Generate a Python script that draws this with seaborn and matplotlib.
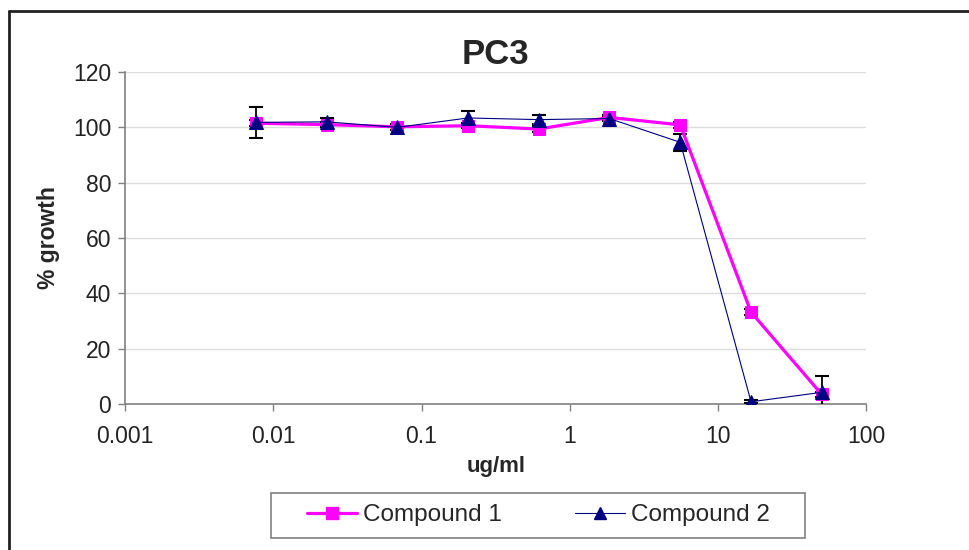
import pandas as pd
import seaborn as sns
import matplotlib.pyplot as plt
from matplotlib.lines import Line2D
from matplotlib.patches import Rectangle
from matplotlib.ticker import FixedLocator, FixedFormatter, NullLocator

# data (3-fold dilution series)
conc = [0.00762, 0.0229, 0.0686, 0.206, 0.617, 1.85, 5.56, 16.7, 50]
c1 = [101.5, 101.0, 100.2, 100.6, 99.4, 103.6, 100.9, 33.2, 3.5]
c1_err = [1.0, 1.0, 1.0, 0.8, 1.0, 1.0, 1.2, 1.2, 1.0]
c2 = [101.8, 102.0, 100.0, 103.4, 102.8, 103.2, 94.6, 0.8, 4.2]
c2_err = [5.7, 1.5, 1.0, 2.5, 1.5, 1.0, 3.0, 0.5, 5.8]

x_ticks = [0.001, 0.01, 0.1, 1, 10, 100]
x_labels = ['0.001', '0.01', '0.1', '1', '10', '100']
y_ticks = [0, 20, 40, 60, 80, 100, 120]

sns.set_style('white')
plt.rcParams['font.family'] = ['Liberation Sans', 'DejaVu Sans']

df1 = pd.DataFrame({'conc': conc, 'growth': c1})
df2 = pd.DataFrame({'conc': conc, 'growth': c2})

fig = plt.figure(figsize=(9.69, 5.5), dpi=100)
ax = fig.add_axes([0.129, 0.2655, 0.765, 0.6035])

# error bars (black, capped)
ax.errorbar(conc, c1, yerr=c1_err, fmt='none', ecolor='black', elinewidth=1.3,
            capsize=5, capthick=1.5, zorder=3)
ax.errorbar(conc, c2, yerr=c2_err, fmt='none', ecolor='black', elinewidth=1.3,
            capsize=5, capthick=1.5, zorder=3)

sns.lineplot(data=df1, x='conc', y='growth', ax=ax, color='#ff00ff', linewidth=2.3,
             marker='s', markersize=9, markeredgecolor='#ff00ff', zorder=4)
sns.lineplot(data=df2, x='conc', y='growth', ax=ax, color='#000080', linewidth=0.8,
             alpha=1, marker='^', markersize=10, markeredgecolor='#000080', zorder=5)

ax.set_xscale('log')
ax.set_xlim(0.001, 100)
ax.set_ylim(0, 120)
ax.xaxis.set_major_locator(FixedLocator(x_ticks))
ax.xaxis.set_major_formatter(FixedFormatter(x_labels))
ax.xaxis.set_minor_locator(NullLocator())
ax.set_yticks(y_ticks)

ax.yaxis.grid(True, color='#dcdcdc', linewidth=1)
ax.set_axisbelow(True)
for side in ['top', 'right']:
    ax.spines[side].set_visible(False)
for side in ['left', 'bottom']:
    ax.spines[side].set_color('#808080')
    ax.spines[side].set_linewidth(1.2)
ax.tick_params(axis='both', direction='out', length=5, width=1, color='#808080',
               labelsize=16.5, labelcolor='#222222', bottom=True, left=True)
ax.tick_params(axis='x', pad=10)
ax.tick_params(axis='y', pad=5)

ax.set_title('PC3', fontsize=25, fontweight='bold', pad=6)
ax.set_xlabel('ug/ml', fontsize=16, fontweight='bold', labelpad=6)
ax.set_ylabel('% growth', fontsize=16.5, fontweight='bold', labelpad=9)

handles = [
    Line2D([], [], color='#ff00ff', linewidth=2.3, marker='s', markersize=8),
    Line2D([], [], color='#000080', linewidth=0.8, marker='^', markersize=9),
]
fig.legend(handles, ['Compound 1', 'Compound 2'], loc='center',
           bbox_to_anchor=(0.5557, 0.0636), ncol=2, fontsize=17.5, frameon=False,
           handlelength=2.05, columnspacing=3.0, borderpad=0.3, handletextpad=0.25)
# legend box drawn as its own rectangle
fig.add_artist(Rectangle((271 / 969, 1 - 538 / 550), 534 / 969, 45 / 550,
                         transform=fig.transFigure, fill=False,
                         edgecolor='#808080', linewidth=1.2))

# outer chart frame (only left and top edges fall inside the picture)
fig.add_artist(Line2D([9 / 969, 9 / 969], [0, 1 - 11 / 550], transform=fig.transFigure,
                      color='#222222', linewidth=2))
fig.add_artist(Line2D([9 / 969, 1], [1 - 11 / 550, 1 - 11 / 550], transform=fig.transFigure,
                      color='#222222', linewidth=2))

fig.savefig('out.png', dpi=100)
